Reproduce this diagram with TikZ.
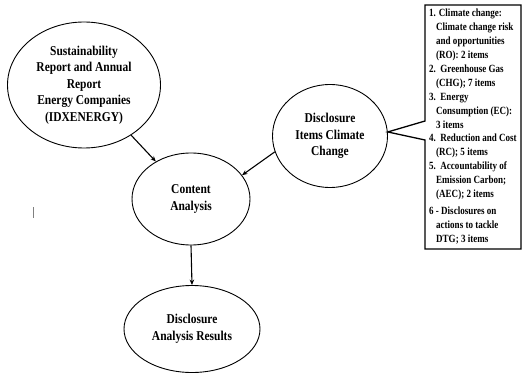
\documentclass[tikz,border=0pt]{standalone}
\usepackage{fontspec}
\setmainfont{Liberation Serif}
\newfontfamily\mainf[FakeStretch=0.85]{Liberation Serif}
\newfontfamily\boxf[FakeStretch=0.82]{Liberation Serif}
\usetikzlibrary{shapes.geometric,arrows.meta}
\begin{document}
\begin{tikzpicture}[x=1pt,y=-1pt,
  bub/.style={ellipse,draw,line width=0.9pt,inner sep=0pt,align=center,
    font=\mainf\bfseries\fontsize{13.5}{16.5}\selectfont},
  arr/.style={line width=1.1pt,-{Stealth[length=5.5pt,width=4.5pt]}},
  calloutbox/.style={line width=1.3pt,line join=miter},
  listtext/.style={anchor=north west,inner sep=0pt,align=left,
    font=\boxf\bfseries\fontsize{11}{13.9}\selectfont}]
\useasboundingbox (0,0) rectangle (524,374);

\node[bub,minimum width=153pt,minimum height=126pt] (sus) at (84,85)
  {Sustainability\\Report and Annual\\Report\\Energy Companies\\(IDXENERGY)};
\node[bub,minimum width=115pt,minimum height=103pt] (dis) at (330,136)
  {Disclosure\\Items Climate\\Change};
\node[bub,minimum width=118pt,minimum height=92pt] (ca) at (191,199)
  {Content\\Analysis};
\node[bub,minimum width=136pt,minimum height=87pt] (res) at (192,329)
  {Disclosure\\Analysis Results};

\draw[arr] (sus) -- (ca);
\draw[arr] (dis.196) -- (ca.25);
\draw[arr] (ca.south) -- (res.north);

\coordinate (tip) at (dis.4);
\draw[calloutbox] (425,5) -- (425,121) -- (tip) -- (425,140) -- (425,249)
  -- (521,249) -- (521,5) -- cycle;

\node[listtext] (list) at (429,9) {%
1. Climate change:\\
\hspace*{7pt}Climate change risk\\
\hspace*{7pt}and opportunities\\
\hspace*{7pt}(RO): 2 items\\
2.\ \ Greenhouse Gas\\
\hspace*{7pt}(CHG); 7 items\\
3.\ \ Energy\\
\hspace*{7pt}Consumption (EC):\\
\hspace*{7pt}3 items\\
4.\ \ Reduction and Cost\\
\hspace*{7pt}(RC); 5 items\\
5.\ \ Accountability of\\
\hspace*{7pt}Emission Carbon;\\
\hspace*{7pt}(AEC); 2 items\\[3pt]
6 - Disclosures on\\
\hspace*{7pt}actions to tackle\\
\hspace*{7pt}DTG; 3 items};

\draw[gray,line width=0.6pt] (33,207) -- (33,218);
\end{tikzpicture}
\end{document}
